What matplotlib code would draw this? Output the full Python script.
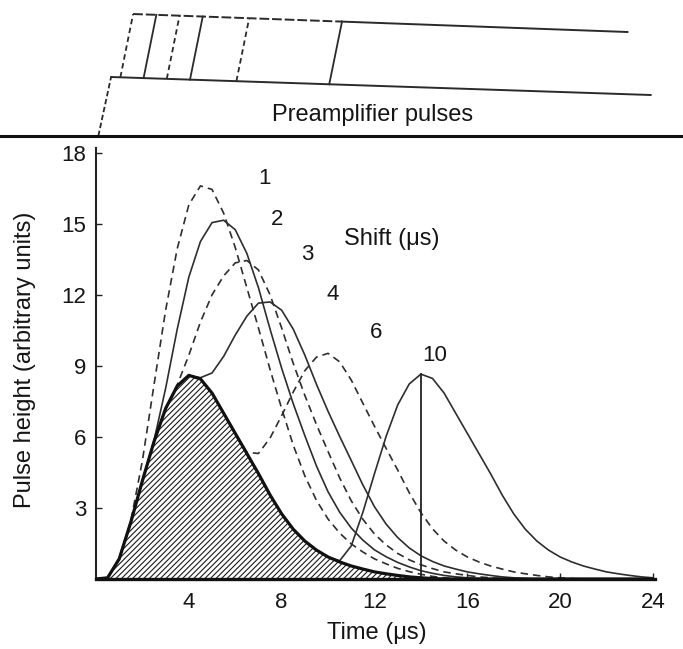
import matplotlib
matplotlib.use("Agg")
import matplotlib.pyplot as plt
from matplotlib.lines import Line2D

plt.rcParams['font.family'] = ['Liberation Sans', 'DejaVu Sans']
plt.rcParams['hatch.linewidth'] = 0.8
plt.rcParams['hatch.color'] = '#1a1a1a'

# ---------------- data ----------------
time_us = [0.0, 0.5, 1.0, 1.5, 2.0, 2.5, 3.0, 3.5, 4.0, 4.5, 5.0, 5.5, 6.0, 6.5,
           7.0, 7.5, 8.0, 8.5, 9.0, 9.5, 10.0, 10.5, 11.0, 11.5, 12.0, 12.5,
           13.0, 13.5, 14.0, 14.5, 15.0, 15.5, 16.0, 16.5, 17.0, 17.5, 18.0,
           18.5, 19.0, 19.5, 20.0, 20.5, 21.0, 21.5, 22.0, 22.5, 23.0, 23.5, 24.0]

single_pulse = [0, 0.05, 0.85, 2.4, 4.15, 5.8, 7.2, 8.15, 8.6, 8.45, 7.85, 7.0, 6.15, 5.3,
                4.45, 3.55, 2.75, 2.1, 1.6, 1.22, 0.93, 0.72, 0.55, 0.42, 0.3, 0.22,
                0.15, 0.09, 0.05, 0.02, 0, 0, 0, 0, 0, 0, 0,
                0, 0, 0, 0, 0, 0, 0, 0, 0, 0, 0, 0]

shift_1 = [0, 0.05, 0.85, 2.45, 5.0, 8.2, 11.35, 13.95, 15.8, 16.6, 16.45, 15.45, 14.0, 12.3,
           10.6, 8.85, 7.2, 5.65, 4.35, 3.32, 2.53, 1.94, 1.48, 1.14, 0.85, 0.64,
           0.45, 0.31, 0.2, 0.11, 0.05, 0.02, 0, 0, 0, 0, 0,
           0, 0, 0, 0, 0, 0, 0, 0, 0, 0, 0, 0]

shift_2 = [0, 0.05, 0.85, 2.4, 4.15, 5.85, 8.05, 10.55, 12.75, 14.25, 15.05, 15.15, 14.75, 13.75,
           12.3, 10.55, 8.9, 7.4, 6.05, 4.77, 3.68, 2.82, 2.15, 1.64, 1.23, 0.94,
           0.7, 0.51, 0.35, 0.24, 0.15, 0.09, 0.05, 0.02, 0, 0, 0,
           0, 0, 0, 0, 0, 0, 0, 0, 0, 0, 0, 0]

shift_3 = [0, 0.05, 0.85, 2.4, 4.15, 5.8, 7.2, 8.2, 9.45, 10.85, 12.0, 12.8, 13.35, 13.45,
           13.05, 12.0, 10.6, 9.1, 7.75, 6.52, 5.38, 4.27, 3.3, 2.52, 1.9, 1.44,
           1.08, 0.81, 0.6, 0.44, 0.3, 0.22, 0.15, 0.09, 0.05, 0.02, 0,
           0, 0, 0, 0, 0, 0, 0, 0, 0, 0, 0, 0]

shift_4 = [0, 0.05, 0.85, 2.4, 4.15, 5.8, 7.2, 8.15, 8.6, 8.5, 8.7, 9.4, 10.3, 11.1,
           11.65, 11.7, 11.35, 10.55, 9.45, 8.22, 7.08, 6.02, 5.0, 3.97, 3.05, 2.32,
           1.75, 1.31, 0.98, 0.74, 0.55, 0.42, 0.3, 0.22, 0.15, 0.09, 0.05,
           0.02, 0, 0, 0, 0, 0, 0, 0, 0, 0, 0, 0]

shift_6 = [0, 0.05, 0.85, 2.4, 4.15, 5.8, 7.2, 8.15, 8.6, 8.45, 7.85, 7.0, 6.15, 5.35,
           5.3, 5.95, 6.9, 7.9, 8.8, 9.37, 9.53, 9.17, 8.4, 7.42, 6.45, 5.52,
           4.6, 3.64, 2.8, 2.12, 1.6, 1.22, 0.93, 0.72, 0.55, 0.42, 0.3,
           0.22, 0.15, 0.09, 0.05, 0.02, 0, 0, 0, 0, 0, 0, 0]

shift_10 = [0, 0.05, 0.85, 2.4, 4.15, 5.8, 7.2, 8.15, 8.6, 8.45, 7.85, 7.0, 6.15, 5.3,
            4.45, 3.55, 2.75, 2.1, 1.6, 1.22, 0.93, 0.77, 1.4, 2.82, 4.45, 6.02,
            7.35, 8.24, 8.65, 8.47, 7.85, 7.0, 6.15, 5.3, 4.45, 3.55, 2.75,
            2.1, 1.6, 1.22, 0.93, 0.72, 0.55, 0.42, 0.3, 0.22, 0.15, 0.09, 0.05]

shift_values = [1, 2, 3, 4, 6, 10]
shift_labels = ['1', '2', '3', '4', '6', '10']
label_x = [7.25, 7.8, 9.1, 10.2, 12.05, 14.6]
label_y = [16.9, 15.2, 13.7, 12.0, 10.4, 9.45]

x_ticks = [4, 8, 12, 16, 20, 24]
y_ticks = [3, 6, 9, 12, 15, 18]

# ---------------- figure ----------------
W, H = 683, 649
fig = plt.figure(figsize=(W / 100, H / 100), dpi=100)
fig.patch.set_facecolor('white')

ax = fig.add_axes([96 / W, (H - 579) / H, (655.3 - 96) / W, (579 - 148) / H])
ax.set_xlim(0, 24.1)
ax.set_ylim(0, 18.2)

text_color = '#151515'
curve_color = '#2e2e2e'
series = [shift_1, shift_2, shift_3, shift_4, shift_6, shift_10]
dashed = [True, False, True, False, True, False]
for vals, is_dashed in zip(series, dashed):
    if is_dashed:
        ax.plot(time_us, vals, color=curve_color, lw=1.2, dashes=(4.5, 3.0), zorder=3,
                solid_joinstyle='round', dash_joinstyle='round')
    else:
        ax.plot(time_us, vals, color=curve_color, lw=1.2, zorder=3,
                solid_joinstyle='round')

# shaded single pulse
ax.fill_between(time_us, 0, single_pulse, facecolor='white', edgecolor='#1a1a1a',
                hatch='//////', linewidth=0, zorder=2)
ax.plot(time_us, single_pulse, color='#111111', lw=2.3, zorder=4,
        solid_capstyle='round', solid_joinstyle='round')

# vertical marker at the peak of the shift-10 second pulse
second_half = shift_10[24:]
i_peak = 24 + second_half.index(max(second_half))
ax.plot([time_us[i_peak], time_us[i_peak]], [0, shift_10[i_peak]], color='#222222', lw=1.3, zorder=3)

fs_ann = 16
for lab, lx, ly in zip(shift_labels, label_x, label_y):
    ax.text(lx, ly, lab, fontsize=fs_ann, ha='center', va='center', color=text_color)
ax.text(12.76, 14.35, 'Shift (μs)', fontsize=17, ha='center', va='center', color=text_color)

for s in ['top', 'right']:
    ax.spines[s].set_visible(False)
ax.spines['left'].set_linewidth(1.5)
ax.spines['left'].set_color('#222222')
ax.spines['bottom'].set_linewidth(2.4)
ax.spines['bottom'].set_color('#111111')

ax.set_xticks(x_ticks)
ax.set_yticks(y_ticks)
ax.set_xticklabels([str(v) for v in x_ticks])
ax.set_yticklabels([str(v) for v in y_ticks])
ax.tick_params(axis='both', direction='in', length=4, width=1, colors='#222222',
               labelsize=16, labelcolor=text_color)
ax.tick_params(axis='x', pad=9)
ax.tick_params(axis='y', pad=7)

fig.text(377 / W, 1 - 633 / H, 'Time (μs)', fontsize=17, ha='center', va='center', color=text_color)
fig.text(25 / W, 1 - 360 / H, 'Pulse height (arbitrary units)', fontsize=17, rotation=90,
         ha='center', va='center', color=text_color)

# ---------------- top schematic: preamplifier pulses ----------------
axt = fig.add_axes([96 / W, (H - 136) / H, (655.3 - 96) / W, 136 / H])
axt.set_xlim(0, 24.1)
axt.set_ylim(136, 0)
axt.axis('off')

lc = '#2a2a2a'
low_t0, low_y0, low_t1, low_y1 = 0.65, 77, 23.9, 95
up_t0, up_y0, up_t1, up_y1 = 1.6, 14, 22.9, 32
slant = 0.55


def y_low(t):
    return low_y0 + (t - low_t0) * (low_y1 - low_y0) / (low_t1 - low_t0)


def y_up(t):
    return up_y0 + (t - up_t0) * (up_y1 - up_y0) / (up_t1 - up_t0)


# main rising edge
axt.plot([0.1, low_t0], [136, low_y0], color=lc, lw=1.3, dashes=(3, 1.5))
# lower baseline
axt.plot([low_t0, low_t1], [low_y0, low_y1], color=lc, lw=1.4)
# upper baseline: dashed part then solid
t_sw = shift_values[-1] + 0.05 + slant
axt.plot([up_t0, t_sw], [y_up(up_t0), y_up(t_sw)], color=lc, lw=1.4, dashes=(5, 1.5))
axt.plot([t_sw, up_t1], [y_up(t_sw), up_y1], color=lc, lw=1.4)
for s, is_dashed in zip(shift_values, dashed):
    tb = s + 0.05
    tt = tb + slant
    if is_dashed:
        axt.plot([tb, tt], [y_low(tb), y_up(tt)], color=lc, lw=1.3, dashes=(3, 2))
    else:
        axt.plot([tb, tt], [y_low(tb), y_up(tt)], color=lc, lw=1.3)

fig.text(373 / W, 1 - 115 / H, 'Preamplifier pulses', fontsize=17, ha='center', va='center',
         color=text_color)
fig.add_artist(Line2D([0, 1], [1 - 136 / H, 1 - 136 / H], color='#111111', lw=2.2))

fig.savefig('out.png', dpi=100, facecolor='white')
